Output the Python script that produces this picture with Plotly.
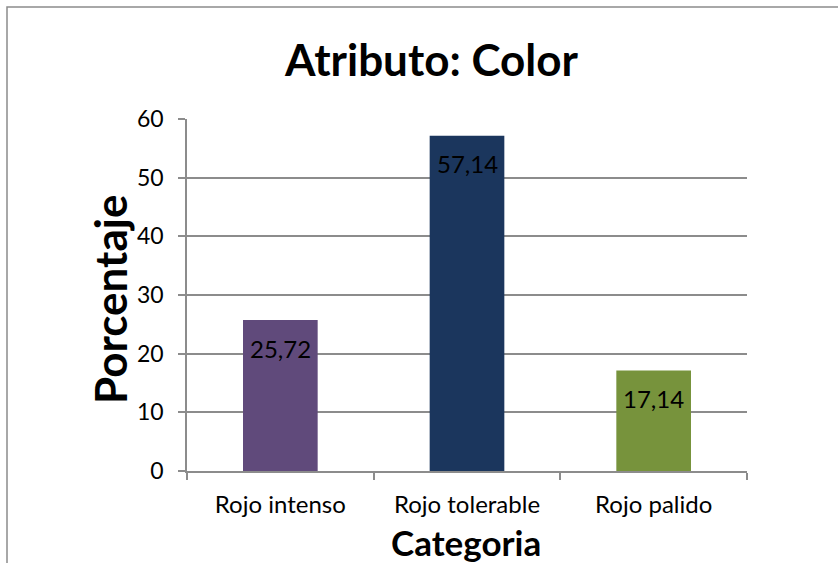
import plotly.graph_objects as go

categorias = ["Rojo intenso", "Rojo tolerable", "Rojo palido"]
porcentajes = [25.72, 57.14, 17.14]
etiquetas = ["25,72", "57,14", "17,14"]
colores = ["#604A7B", "#1B365D", "#77933C"]

GRIS = "#8C8C8C"
FUENTE = "Lato, Carlito, Calibri, sans-serif"

fig = go.Figure(
    go.Bar(
        x=categorias,
        y=porcentajes,
        marker=dict(color=colores, line=dict(width=0)),
        width=0.4,
        hoverinfo="skip",
    )
)

# Value labels just inside the top of each bar
for cat, val, txt in zip(categorias, porcentajes, etiquetas):
    fig.add_annotation(
        x=cat, y=val, text=txt,
        xref="x", yref="y",
        xanchor="center", yanchor="middle",
        yshift=-28,
        showarrow=False,
        font=dict(family=FUENTE, size=24, color="black"),
    )

W, H = 838, 563
L, R, T, B = 187, 91, 119, 92

fig.update_layout(
    width=W,
    height=H,
    margin=dict(l=L, r=R, t=T, b=B),
    paper_bgcolor="white",
    plot_bgcolor="white",
    showlegend=False,
    font=dict(family=FUENTE, color="black"),
)

fig.update_yaxes(
    range=[0, 60],
    tickmode="array",
    tickvals=[0, 10, 20, 30, 40, 50, 60],
    ticktext=["0", "10", "20", "30", "40", "50", "60"],
    showgrid=True,
    gridcolor=GRIS,
    gridwidth=1.5,
    showline=True,
    linecolor=GRIS,
    linewidth=1.5,
    ticks="outside",
    ticklen=7,
    tickwidth=1.5,
    tickcolor=GRIS,
    ticklabelstandoff=10,
    tickfont=dict(family=FUENTE, size=23, color="black"),
    zeroline=False,
    fixedrange=True,
)

fig.update_xaxes(
    showline=True,
    linecolor=GRIS,
    linewidth=1.5,
    ticks="outside",
    tickson="boundaries",
    ticklen=7,
    tickwidth=1.5,
    tickcolor=GRIS,
    ticklabelstandoff=11,
    tickfont=dict(family=FUENTE, size=24, color="black"),
    showgrid=False,
    fixedrange=True,
)

pw = W - L - R
ph = H - T - B


def px_x(x):
    return (x - L) / pw


def px_y(y):
    return 1 - (y - T) / ph


# Chart border
fig.add_shape(
    type="rect",
    xref="paper", yref="paper",
    x0=px_x(7), x1=px_x(W + 10),
    y0=px_y(H + 10), y1=px_y(7),
    line=dict(color=GRIS, width=1.5),
    layer="below",
)

fig.add_annotation(
    text="<b>Atributo: Color</b>",
    xref="paper", yref="paper",
    x=px_x(431), y=px_y(59),
    xanchor="center", yanchor="middle",
    showarrow=False,
    font=dict(family=FUENTE, size=44, color="black"),
)

fig.add_annotation(
    text="<b>Porcentaje</b>",
    xref="paper", yref="paper",
    x=px_x(110), y=px_y(300),
    xanchor="center", yanchor="middle",
    textangle=-90,
    showarrow=False,
    font=dict(family=FUENTE, size=44, color="black"),
)

fig.add_annotation(
    text="<b>Categoria</b>",
    xref="paper", yref="paper",
    x=px_x(466), y=px_y(542),
    xanchor="center", yanchor="middle",
    showarrow=False,
    font=dict(family=FUENTE, size=35, color="black"),
)

fig.write_html("out.html")
